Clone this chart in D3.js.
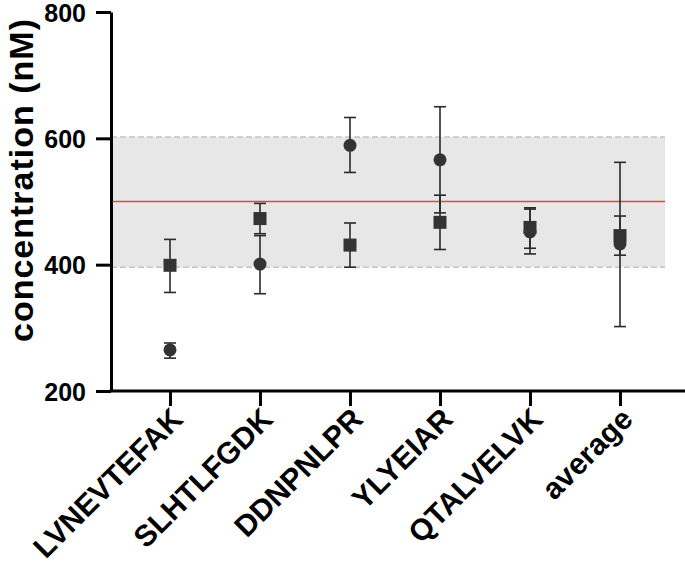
<!DOCTYPE html>
<html>
<head>
<meta charset="utf-8">
<script src="https://cdn.jsdelivr.net/npm/d3@7"></script>
<style>
  body { margin: 0; background: #fff; }
  text { font-family: "Liberation Sans", Arial, sans-serif; font-weight: bold; }
</style>
</head>
<body>
<div id="chart-container"></div>
<script>
var peptides = ['LVNEVTEFAK', 'SLHTLFGDK', 'DDNPNLPR', 'YLYEIAR', 'QTALVELVK', 'average']

// square series
var squareMean = [399, 473, 431, 467, 459, 446]
var squareLow  = [356, 449, 396, 424, 426, 415]
var squareHigh = [440, 497, 466, 510, 490, 477]

// circle series
var circleMean = [265, 401, 589, 566, 452, 433]
var circleLow  = [252, 354, 546, 482, 417, 302]
var circleHigh = [276, 446, 633, 650, 488, 562]

var yTicks = [200, 400, 600, 800]
var target = 500
var bandLow = 396
var bandHigh = 602

var margin = {top: 12, right: 0, bottom: 181, left: 111}
var width = 685 - margin.left - margin.right
var height = 572 - margin.top - margin.bottom

var xScale = d3.scalePoint()
  .domain(peptides)
  .range([59, 509])

var step = xScale.step()

var yScale = d3.scaleLinear()
  .domain([200, 800])
  .range([height, 0])

var svg = d3.select('#chart-container')
  .append('svg')
  .attr('width', width + margin.left + margin.right)
  .attr('height', height + margin.top + margin.bottom)
  .append('g')
  .attr('transform', 'translate(' + margin.left + ', ' + margin.top + ')')

var bandRight = xScale(peptides[peptides.length - 1]) + step / 2

/* grey band */
svg.append('rect')
  .attr('x', 0)
  .attr('y', yScale(bandHigh))
  .attr('width', bandRight)
  .attr('height', yScale(bandLow) - yScale(bandHigh))
  .attr('fill', '#e7e7e7')

svg.selectAll('.band-edge')
  .data([bandLow, bandHigh])
  .enter().append('line')
  .attr('class', 'band-edge')
  .attr('x1', 0)
  .attr('x2', bandRight)
  .attr('y1', d => yScale(d))
  .attr('y2', d => yScale(d))
  .attr('stroke', '#c4c4c4')
  .attr('stroke-width', 1.5)
  .attr('stroke-dasharray', '6,3')

/* target line */
svg.append('line')
  .attr('x1', 0)
  .attr('x2', bandRight)
  .attr('y1', yScale(target))
  .attr('y2', yScale(target))
  .attr('stroke', '#e0474c')
  .attr('stroke-width', 1.5)

function errorBars(mean, low, high) {
  var g = svg.append('g')
    .attr('stroke', '#2a2a2a')
    .attr('stroke-width', 1.6)
  peptides.forEach(function(p, i) {
    var x = xScale(p)
    g.append('line')
      .attr('x1', x).attr('x2', x)
      .attr('y1', yScale(low[i])).attr('y2', yScale(high[i]))
    g.append('line')
      .attr('x1', x - 6).attr('x2', x + 6)
      .attr('y1', yScale(low[i])).attr('y2', yScale(low[i]))
    g.append('line')
      .attr('x1', x - 6).attr('x2', x + 6)
      .attr('y1', yScale(high[i])).attr('y2', yScale(high[i]))
  })
}

errorBars(squareMean, squareLow, squareHigh)
errorBars(circleMean, circleLow, circleHigh)

svg.selectAll('.sq')
  .data(squareMean)
  .enter().append('rect')
  .attr('class', 'sq')
  .attr('x', (d, i) => xScale(peptides[i]) - 6.5)
  .attr('y', d => yScale(d) - 6.5)
  .attr('width', 13)
  .attr('height', 13)
  .attr('fill', '#333')

svg.selectAll('.dot')
  .data(circleMean)
  .enter().append('circle')
  .attr('class', 'dot')
  .attr('cx', (d, i) => xScale(peptides[i]))
  .attr('cy', d => yScale(d))
  .attr('r', 6.5)
  .attr('fill', '#333')

/* y axis */
var yAxis = svg.append('g')
  .attr('class', 'axis axis--y')
  .call(d3.axisLeft(yScale).tickValues(yTicks).tickSize(15).tickSizeOuter(0).tickPadding(10))
yAxis.selectAll('line, path').attr('stroke', '#000').attr('stroke-width', 3)
yAxis.selectAll('text').attr('font-size', 25).attr('fill', '#000').attr('dy', '0.36em')

/* x axis */
var xAxis = svg.append('g')
  .attr('class', 'axis axis--x')
  .attr('transform', 'translate(0, ' + height + ')')
  .call(d3.axisBottom(xScale).tickSize(15).tickSizeOuter(0))
xAxis.select('.domain').remove()
xAxis.append('line')
  .attr('x1', -1.5)
  .attr('x2', width)
  .attr('stroke', '#000')
  .attr('stroke-width', 3)
xAxis.selectAll('.tick line').attr('stroke', '#000').attr('stroke-width', 3)
xAxis.selectAll('text')
  .attr('font-size', 30)
  .attr('fill', '#000')
  .attr('text-anchor', 'end')
  .attr('dy', 0)
  .attr('y', 0)
  .attr('transform', 'translate(14, 30) rotate(-45)')

/* y label */
svg.append('text')
  .attr('transform', 'translate(-78, 168) rotate(-90)')
  .attr('text-anchor', 'middle')
  .attr('font-size', 34)
  .attr('letter-spacing', 1)
  .attr('fill', '#000')
  .text('concentration (nM)')
</script>
</body>
</html>
